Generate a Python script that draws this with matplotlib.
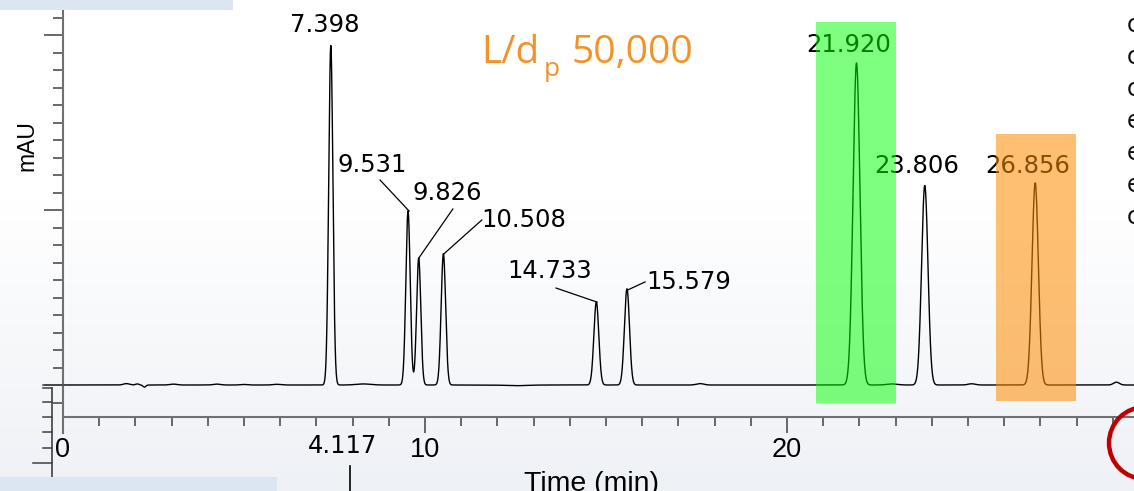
import numpy as np
import matplotlib
matplotlib.use('Agg')
import matplotlib.pyplot as plt
from matplotlib.patches import Rectangle, Circle
from matplotlib.lines import Line2D

W, H, DPI = 1134, 491, 100

# ---------------- data ----------------
peak_rt = [7.398, 9.531, 9.826, 10.508, 14.733, 15.579, 21.920, 23.806, 26.856]
peak_height = [194.0, 99.5, 72.5, 75.0, 47.5, 55.0, 184.0, 114.0, 115.5]
peak_sigma = [0.058, 0.06, 0.058, 0.062, 0.068, 0.07, 0.095, 0.088, 0.088]
peak_labels = ['7.398', '9.531', '9.826', '10.508', '14.733', '15.579',
               '21.920', '23.806', '26.856']
label_x = [7.24, 8.54, 10.61, 12.73, 13.45, 17.29, 21.71, 23.59, 26.66]
label_y = [201.7, 121.7, 105.7, 90.3, 61.1, 54.9, 190.3, 121.1, 121.1]
leader_from = [None, (8.76, 117.1), (10.77, 100.6), (11.57, 94.3), (13.62, 55.4),
               (15.60, 54.3), None, None, None]
leader_to = [None, (9.56, 99.4), (9.83, 72.6), (10.52, 74.9), (14.75, 47.4),
             (16.08, 58.9), None, None, None]
bump_rt = [1.75, 2.05, 2.25, 3.05, 4.25, 5.0, 5.9, 8.3, 12.5, 17.6, 22.9, 25.1, 29.1]
bump_h = [0.8, 0.6, -1.2, 0.5, 0.5, 0.3, 0.4, 0.6, -0.4, 0.8, 0.6, 0.7, 1.6]
bump_sigma = [0.08, 0.05, 0.04, 0.1, 0.1, 0.1, 0.1, 0.2, 0.3, 0.1, 0.15, 0.1, 0.08]
x_major = [0, 10, 20, 30]
highlight_green = (20.80, 23.01, -10.3, 207.4)
highlight_orange = (25.77, 27.98, -9.1, 143.4)
title_text = ['L/d', 'p', '50,000']

# ---------------- figure ----------------
fig = plt.figure(figsize=(W / DPI, H / DPI), dpi=DPI)

def fx(px):
    return px / W

def fy(py):
    return 1 - py / H

# background gradient
bg = fig.add_axes([0, 0, 1, 1], zorder=-10)
grad = np.ones((H, 1, 3))
rows = np.arange(H)
t = np.clip((rows - 200) / (H - 200), 0, 1)[:, None]
base = np.array([1.0, 1.0, 1.0])
bot = np.array([238, 241, 246]) / 255
grad[:, 0, :] = base * (1 - t) + bot * t
bg.imshow(grad, aspect='auto', extent=[0, 1, 0, 1])
bg.axis('off')

# main axes: x 0 at px 63, 36.2 px/min; y 0 at px 385, 1.75 px/unit
PXMIN = 36.2
left_px, bottom_px, top_px = 63, 417, 10
xmax = 31
right_px = left_px + xmax * PXMIN
ylo = -(bottom_px - 385) / 1.75
yhi = ylo + (bottom_px - top_px) / 1.75
ax = fig.add_axes([fx(left_px), fy(bottom_px), fx(right_px - left_px),
                   (bottom_px - top_px) / H])
ax.set_facecolor('none')
ax.set_xlim(0, xmax)
ax.set_ylim(ylo, yhi)

tt = np.linspace(0, xmax, 8000)
sig = np.zeros_like(tt)
for rt, h, s in zip(peak_rt, peak_height, peak_sigma):
    sig += h * np.exp(-0.5 * ((tt - rt) / s) ** 2)
for rt, h, s in zip(bump_rt, bump_h, bump_sigma):
    sig += h * np.exp(-0.5 * ((tt - rt) / s) ** 2)
ax.plot(tt, sig, color='black', lw=1.0, zorder=2)

for lab, lx, ly, lf, lt in zip(peak_labels, label_x, label_y, leader_from, leader_to):
    ax.text(lx, ly, lab, ha='center', va='baseline', fontsize=17.5,
            family='DejaVu Sans', color='black', zorder=3)
    if lf is not None:
        ax.plot([lf[0], lt[0]], [lf[1], lt[1]], color='black', lw=0.9, zorder=3)

for (x0, x1, y0, y1), c, a in [(highlight_green, (0, 1, 0), 0.5),
                              (highlight_orange, (1, 0.55, 0), 0.55)]:
    ax.add_patch(Rectangle((x0, y0), x1 - x0, y1 - y0, facecolor=c, alpha=a,
                           edgecolor='none', zorder=5))

spine_c = '#707070'
for s in ['top', 'right', 'left']:
    ax.spines[s].set_visible(False)
ax.spines['bottom'].set_color(spine_c)
ax.spines['bottom'].set_linewidth(1.5)

ax.set_xticks(x_major)
ax.set_xticks(np.arange(0, xmax + 1, 1), minor=True)
ax.set_xticklabels([str(v) for v in x_major], family='Liberation Sans', fontsize=19.5)
ax.tick_params(axis='x', which='major', direction='out', length=11.5, width=1.1,
               color='#404040', pad=3)
ax.tick_params(axis='x', which='minor', direction='out', length=6.5, width=1.1,
               color='#404040')
ax.set_yticks([0, 100, 200])
ax.set_yticks(np.arange(-10, 211, 10), minor=True)
ax.set_yticklabels([])
ax.tick_params(axis='y', which='major', direction='out', length=13.7, width=1.1,
               color='#404040')
ax.tick_params(axis='y', which='minor', direction='out', length=7.2, width=1.1,
               color='#404040')

# left spine (extends below the x axis)
fig.add_artist(Line2D([fx(63), fx(63)], [fy(433), fy(top_px)], color=spine_c, lw=1.5))
fig.add_artist(Line2D([fx(43), fx(63)], [fy(385), fy(385)], color='#404040', lw=1.1))
# second (underlying) axis fragment
fig.add_artist(Line2D([fx(52), fx(52)], [fy(388), fy(491)], color='#404040', lw=1.2))
for ty in [388, 402, 417, 432, 448]:
    fig.add_artist(Line2D([fx(43), fx(52)], [fy(ty), fy(ty)], color='#404040', lw=1.1))
fig.add_artist(Line2D([fx(33), fx(52)], [fy(463), fy(463)], color='#404040', lw=1.1))
fig.text(fx(343), fy(453), '4.117', ha='center', va='baseline', fontsize=17.5,
         family='DejaVu Sans')
fig.add_artist(Line2D([fx(350), fx(350)], [fy(466), fy(491)], color='black', lw=1.2))

# axis labels
fig.text(fx(591), fy(491), 'Time (min)', ha='center', va='baseline', fontsize=20.5,
         family='Liberation Sans')
fig.text(fx(27), fy(146), 'mAU', ha='center', va='center', rotation=90, fontsize=16.5,
         family='Liberation Sans')

# title text
orange = '#F39228'
fig.text(fx(481), fy(63), title_text[0], ha='left', va='baseline', fontsize=28,
         family='Open Sans', color=orange)
fig.text(fx(544), fy(76), title_text[1], ha='left', va='baseline', fontsize=19,
         family='Open Sans', color=orange)
fig.text(fx(571), fy(63), title_text[2], ha='left', va='baseline', fontsize=28,
         family='Open Sans', color=orange)

# clipped letters at the right edge
for ch, yy in zip(['c', 'c', 'c', 'e', 'e', 'e', 'c'], [25, 57, 89, 121, 153, 185, 217]):
    fig.text(fx(1127), fy(yy), ch, ha='left', va='center', fontsize=17,
             family='DejaVu Sans', color='#111111')

# slide decorations
fig.add_artist(Rectangle((0, fy(10)), fx(233), 10 / H, facecolor='#DCE6F2',
                         edgecolor='none', transform=fig.transFigure, zorder=20))
fig.add_artist(Rectangle((0, 0), fx(277), 14 / H, facecolor='#DCE6F2',
                         edgecolor='none', transform=fig.transFigure, zorder=20))
circ = Circle((1145, H - 443), 36, transform=None, fill=False, edgecolor='#C00000',
              lw=3.2, zorder=25)
fig.add_artist(circ)

fig.savefig('out.png', dpi=DPI)
